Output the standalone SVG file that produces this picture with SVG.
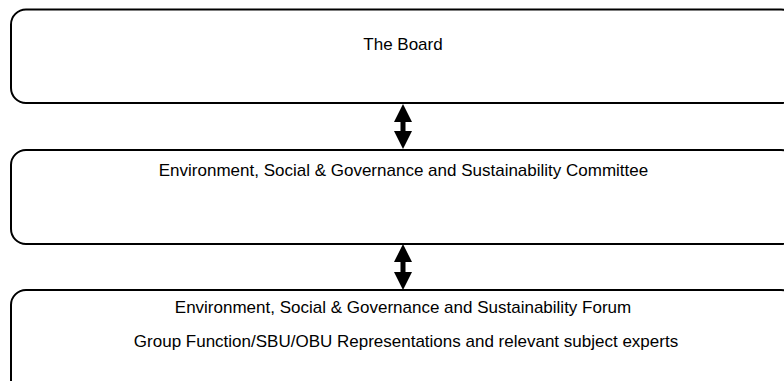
<svg xmlns="http://www.w3.org/2000/svg" width="784" height="381" viewBox="0 0 784 381">
<style>
.box{fill:#fff;stroke:#000;stroke-width:2}
.t{font-family:"Liberation Sans",Arial,sans-serif;font-size:17px;fill:#000;text-anchor:middle}
.arr{fill:#000;stroke:none}
</style>
<rect width="784" height="381" fill="#fff"/>
<g id="board">
<rect class="box" x="11" y="9.5" width="785" height="93.5" rx="15"/>
<text class="t" x="403" y="50">The Board</text>
</g>
<g id="committee">
<rect class="box" x="11" y="150" width="785" height="94" rx="15"/>
<text class="t" x="403.5" y="176">Environment, Social &amp; Governance and Sustainability Committee</text>
</g>
<g id="forum">
<rect class="box" x="11" y="290" width="785" height="120" rx="15"/>
<text class="t" x="403" y="313">Environment, Social &amp; Governance and Sustainability Forum</text>
<text class="t" x="406" y="347">Group Function/SBU/OBU Representations and relevant subject experts</text>
</g>
<g id="connectors">
<path class="arr" d="M403,104 L412,122 L405.5,122 L405.5,131 L412,131 L403,149 L394,131 L400.5,131 L400.5,122 L394,122 Z"/>
<path class="arr" d="M403,244 L412,262 L405.5,262 L405.5,272 L412,272 L403,290 L394,272 L400.5,272 L400.5,262 L394,262 Z"/>
</g>
</svg>
